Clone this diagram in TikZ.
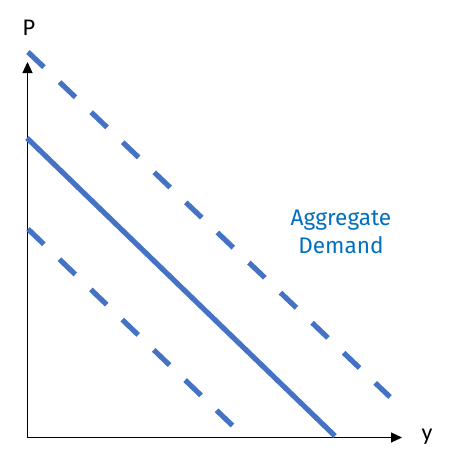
\documentclass[tikz,border=0pt]{standalone}
\usepackage{fontspec}
\setmainfont{Carlito}
\newfontfamily\firafont{Fira Sans}
\usetikzlibrary{arrows.meta}
\definecolor{adblue}{HTML}{4472C4}
\definecolor{txtblue}{HTML}{0070C0}
\begin{document}
\begin{tikzpicture}[x=1pt,y=-1pt,
  axis/.style={line width=1.1pt,-{Triangle[length=11pt,width=10pt]}},
  curve/.style={adblue,line width=5.2pt},
  dashcurve/.style={curve,dash pattern=on 22pt off 21.6pt},
  lbl/.style={font=\fontsize{24}{28}\selectfont,inner sep=0pt}]
\useasboundingbox (0,0) rectangle (452,472);
\coordinate (O) at (27.5,437.5);
\coordinate (Ptop) at (27.5,62);
\coordinate (Yend) at (402,437.5);
\draw[axis] (O) -- (Ptop);
\draw[axis] (O) -- (Yend);
\node[lbl] (P) at (29,28) {P};
\node[lbl] (Y) at (427,437) {y};
\coordinate (s1) at (28,52);
\coordinate (e1) at (390,397);
\coordinate (s2) at (27,138);
\coordinate (e2) at (335,436);
\coordinate (s3) at (28,229);
\coordinate (e3) at (235,428);
\draw[dashcurve] (s1) -- (e1);
\draw[curve] (s2) -- (e2);
\draw[dashcurve] (s3) -- (e3);
\node[font=\firafont\fontsize{22.6}{28}\selectfont,text=txtblue,align=center,inner sep=0pt] (AD) at (341,232) {Aggregate\\Demand};
\end{tikzpicture}
\end{document}
